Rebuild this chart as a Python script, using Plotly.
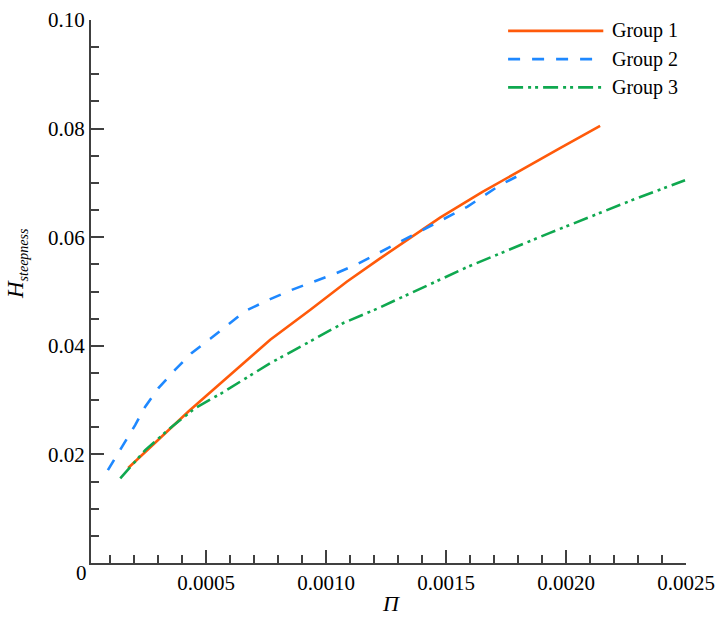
import plotly.graph_objects as go

# ---- data ----
g1_x = [0.000175, 0.000329, 0.000426, 0.000496, 0.000663, 0.000767, 0.000933, 0.001086,
        0.001225, 0.001296, 0.001475, 0.00165, 0.001796, 0.001975, 0.002142]
g1_y = [0.0175, 0.0239, 0.0279, 0.0306, 0.0371, 0.0411, 0.0466, 0.0518,
        0.0561, 0.0582, 0.0636, 0.0683, 0.0720, 0.0764, 0.0805]

g2_x = [0.0000904, 0.0001625, 0.000204, 0.000246, 0.000301, 0.000371, 0.00044, 0.000517,
        0.000593, 0.000663, 0.000767, 0.000857, 0.000947, 0.001044, 0.001128, 0.001211,
        0.001392, 0.001588, 0.001725, 0.0018]
g2_y = [0.0171, 0.0223, 0.0254, 0.0288, 0.0322, 0.0356, 0.0387, 0.0413,
        0.0439, 0.0464, 0.0486, 0.0503, 0.0518, 0.0534, 0.0550, 0.0569,
        0.0610, 0.0656, 0.0696, 0.0713]

g3_x = [0.000142, 0.000246, 0.000357, 0.000454, 0.000565, 0.000656, 0.000767, 0.000933,
        0.001072, 0.001211, 0.001588, 0.001933, 0.002279, 0.002496]
g3_y = [0.0156, 0.0208, 0.0251, 0.0285, 0.0313, 0.0338, 0.0368, 0.0408,
        0.0442, 0.0468, 0.0545, 0.0608, 0.0669, 0.0705]

names = ["Group 1", "Group 2", "Group 3"]
colors = ["#FF5A0A", "#1E88FF", "#0FA84F"]
dashes = ["solid", "12px,12px", "15px,5px,3px,4px,3px,5px"]

x_ticks = [0.0005, 0.0010, 0.0015, 0.0020, 0.0025]
y_ticks = [0.02, 0.04, 0.06, 0.08, 0.10]

FONT = "Liberation Serif, Times New Roman, Times, serif"
AX = "#404040"

fig = go.Figure()
for xs, ys, n, c, d in zip([g1_x, g2_x, g3_x], [g1_y, g2_y, g3_y], names, colors, dashes):
    fig.add_trace(go.Scatter(x=xs, y=ys, mode="lines", name=n,
                             line=dict(color=c, width=2.6, dash=d),
                             showlegend=False))

# manual legend (long line samples like the reference)
leg_y = [0.980, 0.928, 0.876]
for n, c, d, ly in zip(names, colors, dashes, leg_y):
    fig.add_shape(type="line", xref="paper", yref="paper", x0=0.701, x1=0.861, y0=ly, y1=ly,
                  line=dict(color=c, width=2.6, dash=d))
    fig.add_annotation(xref="paper", yref="paper", x=0.873, y=ly, text=n, showarrow=False,
                       xanchor="left", yanchor="middle", font=dict(family=FONT, size=20, color="black"))

fig.add_annotation(xref="paper", yref="paper", x=-0.124, y=0.551, textangle=-90,
                   xanchor="center", yanchor="middle",
                   text="<i>H<sub><span style='font-size:14px'>steepness</span></sub></i>",
                   showarrow=False,
                   font=dict(family=FONT, size=23, color="black"))
fig.add_annotation(xref="paper", yref="paper", x=0.504, y=-0.074,
                   xanchor="center", yanchor="middle",
                   text="<i>Π</i>", showarrow=False,
                   font=dict(family=FONT, size=22, color="black"))
fig.add_annotation(xref="paper", yref="y", x=-0.003, y=0, yshift=-10, xanchor="right",
                   yanchor="middle",
                   text="0", showarrow=False, font=dict(family=FONT, size=21, color="black"))

fig.update_layout(
    width=717, height=618,
    margin=dict(l=91, r=31, t=20, b=55, autoexpand=False),
    paper_bgcolor="white", plot_bgcolor="white",
    font=dict(family=FONT, size=21, color="black"),
)
fig.update_xaxes(range=[0.00002, 0.0025], tickvals=x_ticks, tickformat=".4f", automargin=False,
                 showgrid=False, zeroline=False, showline=True, linecolor=AX, linewidth=2,
                 ticks="inside", ticklen=13, tickwidth=2, tickcolor=AX,
                 minor=dict(ticks="inside", dtick=0.0001, tick0=0, ticklen=8, tickwidth=1.5,
                            tickcolor=AX, showgrid=False),
                 tickfont=dict(family=FONT, size=21, color="black"))
fig.update_yaxes(range=[0, 0.1], tickvals=y_ticks, tickformat=".2f", automargin=False,
                 showgrid=False, zeroline=False, showline=True, linecolor=AX, linewidth=2,
                 ticks="inside", ticklen=13, tickwidth=2, tickcolor=AX,
                 minor=dict(ticks="inside", dtick=0.005, tick0=0, ticklen=8, tickwidth=1.5,
                            tickcolor=AX, showgrid=False),
                 tickfont=dict(family=FONT, size=21, color="black"))

fig.write_html("out.html")
